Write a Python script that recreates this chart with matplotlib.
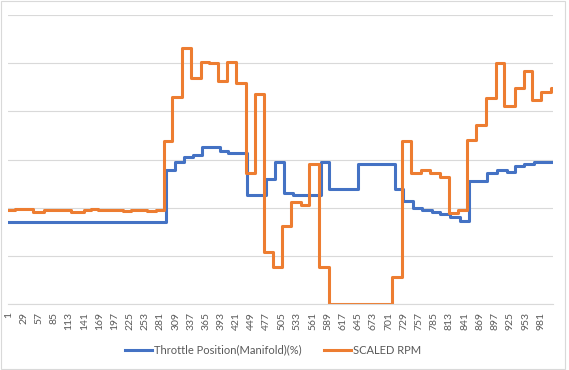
import matplotlib
matplotlib.use("Agg")
import matplotlib.pyplot as plt
from matplotlib.patches import Rectangle
import numpy as np

# step series: index where a level starts, and the level
n_points = 1003

throttle_start = [1, 291, 308, 324, 341, 358, 390, 406, 441, 475, 492, 508, 525,
                  576, 592, 645, 713, 728, 745, 762, 780, 796, 814, 833, 849,
                  882, 901, 918, 934, 951, 968]
throttle_val = [17.0, 27.9, 29.5, 30.5, 31.0, 32.6, 31.7, 31.4, 22.7, 26.0, 29.4,
                23.1, 22.7, 29.4, 23.9, 29.1, 23.9, 21.3, 20.0, 19.6, 19.0, 18.6,
                18.1, 17.2, 25.5, 27.1, 27.9, 27.4, 28.7, 29.1, 29.5]

rpm_start = [1, 14, 47, 66, 117, 140, 154, 167, 213, 227, 256, 273, 287, 303,
             321, 338, 355, 370, 387, 403, 420, 438, 455, 471, 488, 505, 522,
             540, 555, 573, 591, 708, 725, 742, 761, 777, 796, 812, 828, 846,
             862, 880, 899, 914, 933, 950, 965, 982, 999]
rpm_val = [19.5, 19.7, 19.2, 19.6, 19.2, 19.6, 19.8, 19.6, 19.3, 19.6, 19.3, 19.6,
           33.9, 42.9, 53.2, 46.9, 50.2, 50.0, 46.2, 50.2, 45.9, 27.2, 43.6, 10.7,
           7.7, 16.1, 21.1, 20.6, 29.1, 7.7, 0.0, 5.6, 33.9, 27.1, 27.8, 27.1,
           26.3, 18.8, 19.6, 34.1, 37.1, 42.8, 50.0, 41.2, 44.9, 48.3, 42.4,
           44.0, 44.9]

tick_labels = list(range(1, 982, 28))

plt.rcParams['font.family'] = ['Lato', 'DejaVu Sans']

fig = plt.figure(figsize=(5.69, 3.70), dpi=100)
ax = fig.add_axes([8 / 569, 66 / 370, 545 / 569, 289 / 370])

x_thr = np.array(throttle_start + [n_points])
y_thr = np.array(throttle_val + [throttle_val[-1]])
x_rpm = np.array(rpm_start + [n_points])
y_rpm = np.array(rpm_val + [rpm_val[-1]])

ax.step(x_thr, y_thr, where='post', color='#4472C4', lw=2.2,
        label='Throttle Position(Manifold)(%)')
ax.step(x_rpm, y_rpm, where='post', color='#ED7D31', lw=2.2, label='SCALED RPM')

ax.set_xlim(0.5, n_points + 0.5)
ax.set_ylim(0, 60)
ax.set_yticks(range(0, 61, 10))
ax.set_yticklabels([])
ax.yaxis.grid(True, color='#d9d9d9', lw=0.8)
ax.set_axisbelow(True)
ax.set_xticks(tick_labels)
ax.set_xticklabels([str(t) for t in tick_labels], rotation=90, fontsize=7.5,
                   color='#595959')
ax.tick_params(axis='both', length=0)
ax.tick_params(axis='x', pad=6)
for side in ['top', 'left', 'right']:
    ax.spines[side].set_visible(False)
ax.spines['bottom'].set_color('#d9d9d9')
ax.spines['bottom'].set_linewidth(0.8)

leg = fig.legend(loc='center', bbox_to_anchor=(273 / 569, 1 - 350 / 370), ncol=2,
                 frameon=False, fontsize=8, handlelength=2.4, handletextpad=0.2,
                 columnspacing=2.0)
for t in leg.get_texts():
    t.set_color('#595959')

fig.patches.append(Rectangle((0.001, 0.003), 0.992, 0.994, transform=fig.transFigure,
                             fill=False, ec='#d9d9d9', lw=0.8))

fig.savefig('out.png', dpi=100)
